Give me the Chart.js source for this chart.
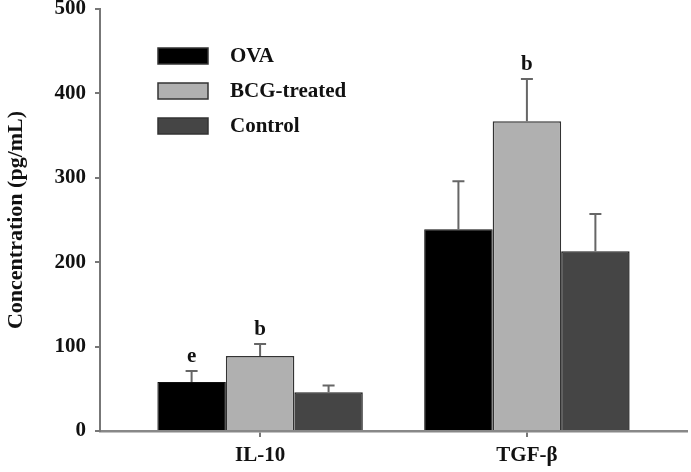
<!DOCTYPE html>
<html>
<head>
<meta charset="utf-8">
<script src="https://cdn.jsdelivr.net/npm/chart.js@4/dist/chart.umd.min.js"></script>
<style>
  html, body { margin: 0; padding: 0; background: #fff; }
  #wrap { width: 691px; height: 472px; }
</style>
</head>
<body>
<div id="wrap"><canvas id="chart"></canvas></div>
<script>
// data
const categories = ['IL-10', 'TGF-β'];
const seriesNames = ['OVA', 'BCG-treated', 'Control'];
const ovaValues = [58, 239];
const bcgValues = [89, 367];
const controlValues = [46, 213];
const ovaErrors = [13, 57];
const bcgErrors = [14, 50];
const controlErrors = [8, 44];
const ovaLetters = ['e', ''];
const bcgLetters = ['b', 'b'];
const controlLetters = ['', ''];
const yTicks = [0, 100, 200, 300, 400, 500];

const serif = '"Liberation Serif", "DejaVu Serif", serif';

function points(values) {
    return values.map((v, i) => ({ x: i + 1, y: v }));
}

// error bars (upper only) and significance letters
const errorBarPlugin = {
    id: 'errorBars',
    afterDatasetsDraw(chart) {
        const ctx = chart.ctx;
        const yScale = chart.scales.y;
        chart.data.datasets.forEach((ds, di) => {
            const meta = chart.getDatasetMeta(di);
            meta.data.forEach((bar, i) => {
                const top = yScale.getPixelForValue(ds.data[i].y + ds.errors[i]);
                ctx.save();
                ctx.strokeStyle = '#666';
                ctx.lineWidth = 2;
                ctx.beginPath();
                ctx.moveTo(bar.x, bar.y);
                ctx.lineTo(bar.x, top);
                ctx.moveTo(bar.x - 6, top);
                ctx.lineTo(bar.x + 6, top);
                ctx.stroke();
                if (ds.letters[i]) {
                    ctx.fillStyle = '#111';
                    ctx.font = 'bold 21px ' + serif;
                    ctx.textAlign = 'center';
                    ctx.textBaseline = 'alphabetic';
                    ctx.fillText(ds.letters[i], bar.x, top - 9);
                }
                ctx.restore();
            });
        });
    }
};

// legend drawn inside the plot, top left
const boxLegendPlugin = {
    id: 'boxLegend',
    afterDraw(chart) {
        const ctx = chart.ctx;
        ctx.save();
        chart.data.datasets.forEach((ds, i) => {
            const y = 48 + i * 35;
            ctx.fillStyle = ds.backgroundColor;
            ctx.fillRect(158, y, 50, 16);
            ctx.strokeStyle = '#333';
            ctx.lineWidth = 1.5;
            ctx.strokeRect(158, y, 50, 16);
            ctx.fillStyle = '#111';
            ctx.font = 'bold 21px ' + serif;
            ctx.textAlign = 'left';
            ctx.textBaseline = 'middle';
            ctx.fillText(ds.label, 230, y + 9);
        });
        ctx.restore();
    }
};

const ctx = document.getElementById('chart').getContext('2d');

new Chart(ctx, {
    type: 'bar',
    data: {
        datasets: [
            { label: seriesNames[0], data: points(ovaValues), errors: ovaErrors, letters: ovaLetters,
              backgroundColor: '#000000', borderColor: '#111', borderWidth: 1 },
            { label: seriesNames[1], data: points(bcgValues), errors: bcgErrors, letters: bcgLetters,
              backgroundColor: '#b0b0b0', borderColor: '#333', borderWidth: 1.5 },
            { label: seriesNames[2], data: points(controlValues), errors: controlErrors, letters: controlLetters,
              backgroundColor: '#454545', borderColor: '#222', borderWidth: 1.5 }
        ]
    },
    options: {
        responsive: true,
        maintainAspectRatio: false,
        animation: false,
        layout: { padding: { top: 9, right: 4, left: 0, bottom: 0 } },
        plugins: {
            legend: { display: false },
            tooltip: { enabled: false }
        },
        datasets: {
            bar: { categoryPercentage: 0.77, barPercentage: 1 }
        },
        scales: {
            x: {
                type: 'linear',
                min: 0.4,
                max: 2.6,
                offset: false,
                afterBuildTicks(scale) {
                    scale.ticks = categories.map((c, i) => ({ value: i + 1 }));
                },
                afterFit(scale) {
                    scale.height = 41;
                    scale.paddingLeft = 0;
                    scale.paddingRight = 0;
                },
                grid: { offset: false, drawOnChartArea: false, drawTicks: true, tickLength: 6, color: '#777', lineWidth: 2 },
                border: { display: true, color: '#888', width: 2.5 },
                ticks: {
                    callback: (v) => categories[v - 1] || '',
                    color: '#111',
                    padding: 6,
                    maxRotation: 0,
                    font: { family: serif, size: 21, weight: 'bold' }
                }
            },
            y: {
                min: 0,
                max: 500,
                afterBuildTicks(scale) {
                    scale.ticks = yTicks.map(v => ({ value: v }));
                },
                afterFit(scale) {
                    scale.width = 100;
                    scale.paddingTop = 0;
                    scale.paddingBottom = 0;
                },
                grid: { drawOnChartArea: false, drawTicks: true, tickLength: 5, color: '#777', lineWidth: 2 },
                border: { display: true, color: '#777', width: 2 },
                ticks: {
                    color: '#111',
                    padding: 9,
                    font: { family: serif, size: 21, weight: 'bold' }
                },
                title: {
                    display: true,
                    text: 'Concentration (pg/mL)',
                    color: '#111',
                    padding: { top: 3, bottom: 0 },
                    font: { family: serif, size: 22, weight: 'bold' }
                }
            }
        }
    },
    plugins: [errorBarPlugin, boxLegendPlugin]
});
</script>
</body>
</html>
